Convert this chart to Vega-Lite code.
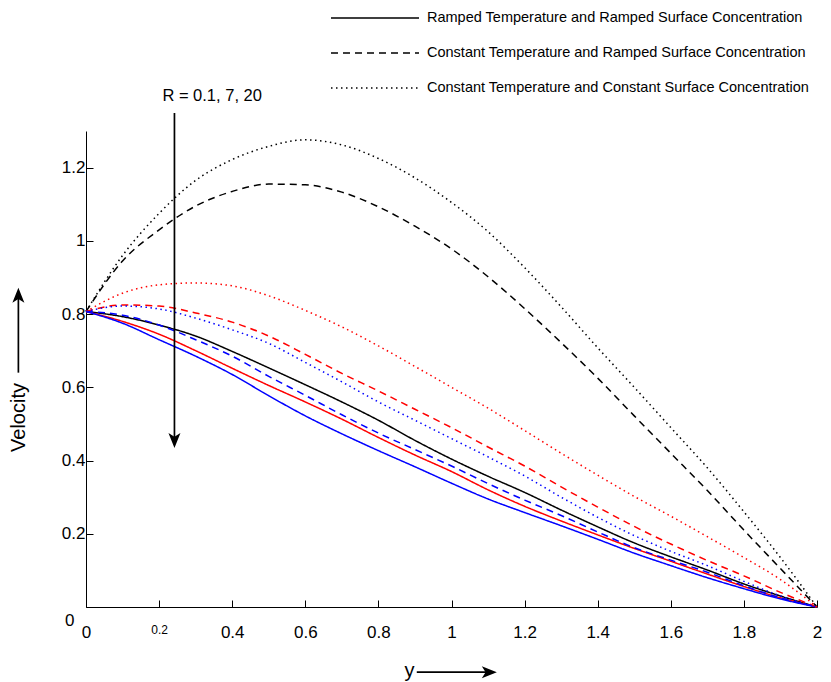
{
  "$schema": "https://vega.github.io/schema/vega-lite/v6.json",
  "autosize": {"type": "none"},
  "padding": {"left": 86, "top": 131, "right": 13, "bottom": 75},
  "width": 731,
  "height": 476,
  "background": "white",
  "config": {
    "view": {"stroke": null},
    "font": "Liberation Sans",
    "axis": {"grid": false, "domainColor": "black", "tickColor": "black", "labelColor": "black", "titleColor": "black", "titleFontWeight": "normal", "labelFont": "Liberation Sans", "titleFont": "Liberation Sans"}
  },
  "datasets": {
    "curves": [
      {"y":0,"v":0.807,"R":"0.1","c":"RR"},{"y":0.1,"v":0.793,"R":"0.1","c":"RR"},{"y":0.2,"v":0.77,"R":"0.1","c":"RR"},{"y":0.3,"v":0.74,"R":"0.1","c":"RR"},{"y":0.4,"v":0.698,"R":"0.1","c":"RR"},{"y":0.5,"v":0.653,"R":"0.1","c":"RR"},{"y":0.6,"v":0.607,"R":"0.1","c":"RR"},{"y":0.7,"v":0.56,"R":"0.1","c":"RR"},{"y":0.8,"v":0.51,"R":"0.1","c":"RR"},{"y":0.9,"v":0.455,"R":"0.1","c":"RR"},{"y":1.0,"v":0.404,"R":"0.1","c":"RR"},{"y":1.1,"v":0.357,"R":"0.1","c":"RR"},{"y":1.2,"v":0.313,"R":"0.1","c":"RR"},{"y":1.3,"v":0.265,"R":"0.1","c":"RR"},{"y":1.4,"v":0.219,"R":"0.1","c":"RR"},{"y":1.5,"v":0.175,"R":"0.1","c":"RR"},{"y":1.6,"v":0.137,"R":"0.1","c":"RR"},{"y":1.7,"v":0.101,"R":"0.1","c":"RR"},{"y":1.8,"v":0.063,"R":"0.1","c":"RR"},{"y":1.9,"v":0.03,"R":"0.1","c":"RR"},{"y":2.0,"v":0,"R":"0.1","c":"RR"},
      {"y":0,"v":0.807,"R":"7","c":"RR"},{"y":0.1,"v":0.78,"R":"7","c":"RR"},{"y":0.2,"v":0.745,"R":"7","c":"RR"},{"y":0.3,"v":0.7,"R":"7","c":"RR"},{"y":0.4,"v":0.652,"R":"7","c":"RR"},{"y":0.5,"v":0.605,"R":"7","c":"RR"},{"y":0.6,"v":0.56,"R":"7","c":"RR"},{"y":0.7,"v":0.513,"R":"7","c":"RR"},{"y":0.8,"v":0.463,"R":"7","c":"RR"},{"y":0.9,"v":0.415,"R":"7","c":"RR"},{"y":1.0,"v":0.37,"R":"7","c":"RR"},{"y":1.1,"v":0.32,"R":"7","c":"RR"},{"y":1.2,"v":0.275,"R":"7","c":"RR"},{"y":1.3,"v":0.235,"R":"7","c":"RR"},{"y":1.4,"v":0.197,"R":"7","c":"RR"},{"y":1.5,"v":0.16,"R":"7","c":"RR"},{"y":1.6,"v":0.125,"R":"7","c":"RR"},{"y":1.7,"v":0.09,"R":"7","c":"RR"},{"y":1.8,"v":0.056,"R":"7","c":"RR"},{"y":1.9,"v":0.025,"R":"7","c":"RR"},{"y":2.0,"v":0,"R":"7","c":"RR"},
      {"y":0,"v":0.807,"R":"20","c":"RR"},{"y":0.1,"v":0.775,"R":"20","c":"RR"},{"y":0.2,"v":0.73,"R":"20","c":"RR"},{"y":0.3,"v":0.685,"R":"20","c":"RR"},{"y":0.4,"v":0.635,"R":"20","c":"RR"},{"y":0.5,"v":0.577,"R":"20","c":"RR"},{"y":0.6,"v":0.522,"R":"20","c":"RR"},{"y":0.7,"v":0.473,"R":"20","c":"RR"},{"y":0.8,"v":0.427,"R":"20","c":"RR"},{"y":0.9,"v":0.383,"R":"20","c":"RR"},{"y":1.0,"v":0.338,"R":"20","c":"RR"},{"y":1.1,"v":0.295,"R":"20","c":"RR"},{"y":1.2,"v":0.258,"R":"20","c":"RR"},{"y":1.3,"v":0.222,"R":"20","c":"RR"},{"y":1.4,"v":0.185,"R":"20","c":"RR"},{"y":1.5,"v":0.147,"R":"20","c":"RR"},{"y":1.6,"v":0.113,"R":"20","c":"RR"},{"y":1.7,"v":0.08,"R":"20","c":"RR"},{"y":1.8,"v":0.05,"R":"20","c":"RR"},{"y":1.9,"v":0.022,"R":"20","c":"RR"},{"y":2.0,"v":0,"R":"20","c":"RR"},
      {"y":0,"v":0.807,"R":"0.1","c":"CR"},{"y":0.1,"v":0.945,"R":"0.1","c":"CR"},{"y":0.2,"v":1.03,"R":"0.1","c":"CR"},{"y":0.3,"v":1.095,"R":"0.1","c":"CR"},{"y":0.4,"v":1.135,"R":"0.1","c":"CR"},{"y":0.5,"v":1.155,"R":"0.1","c":"CR"},{"y":0.6,"v":1.153,"R":"0.1","c":"CR"},{"y":0.7,"v":1.133,"R":"0.1","c":"CR"},{"y":0.8,"v":1.093,"R":"0.1","c":"CR"},{"y":0.9,"v":1.04,"R":"0.1","c":"CR"},{"y":1.0,"v":0.978,"R":"0.1","c":"CR"},{"y":1.1,"v":0.902,"R":"0.1","c":"CR"},{"y":1.2,"v":0.815,"R":"0.1","c":"CR"},{"y":1.3,"v":0.722,"R":"0.1","c":"CR"},{"y":1.4,"v":0.625,"R":"0.1","c":"CR"},{"y":1.5,"v":0.522,"R":"0.1","c":"CR"},{"y":1.6,"v":0.42,"R":"0.1","c":"CR"},{"y":1.7,"v":0.318,"R":"0.1","c":"CR"},{"y":1.8,"v":0.21,"R":"0.1","c":"CR"},{"y":1.9,"v":0.105,"R":"0.1","c":"CR"},{"y":2.0,"v":0,"R":"0.1","c":"CR"},
      {"y":0,"v":0.807,"R":"7","c":"CR"},{"y":0.1,"v":0.825,"R":"7","c":"CR"},{"y":0.2,"v":0.822,"R":"7","c":"CR"},{"y":0.3,"v":0.803,"R":"7","c":"CR"},{"y":0.4,"v":0.778,"R":"7","c":"CR"},{"y":0.5,"v":0.74,"R":"7","c":"CR"},{"y":0.6,"v":0.69,"R":"7","c":"CR"},{"y":0.7,"v":0.638,"R":"7","c":"CR"},{"y":0.8,"v":0.59,"R":"7","c":"CR"},{"y":0.9,"v":0.54,"R":"7","c":"CR"},{"y":1.0,"v":0.49,"R":"7","c":"CR"},{"y":1.1,"v":0.437,"R":"7","c":"CR"},{"y":1.2,"v":0.385,"R":"7","c":"CR"},{"y":1.3,"v":0.328,"R":"7","c":"CR"},{"y":1.4,"v":0.273,"R":"7","c":"CR"},{"y":1.5,"v":0.22,"R":"7","c":"CR"},{"y":1.6,"v":0.172,"R":"7","c":"CR"},{"y":1.7,"v":0.127,"R":"7","c":"CR"},{"y":1.8,"v":0.085,"R":"7","c":"CR"},{"y":1.9,"v":0.04,"R":"7","c":"CR"},{"y":2.0,"v":0,"R":"7","c":"CR"},
      {"y":0,"v":0.807,"R":"20","c":"CR"},{"y":0.1,"v":0.797,"R":"20","c":"CR"},{"y":0.2,"v":0.77,"R":"20","c":"CR"},{"y":0.3,"v":0.73,"R":"20","c":"CR"},{"y":0.4,"v":0.685,"R":"20","c":"CR"},{"y":0.5,"v":0.63,"R":"20","c":"CR"},{"y":0.6,"v":0.578,"R":"20","c":"CR"},{"y":0.7,"v":0.525,"R":"20","c":"CR"},{"y":0.8,"v":0.475,"R":"20","c":"CR"},{"y":0.9,"v":0.43,"R":"20","c":"CR"},{"y":1.0,"v":0.385,"R":"20","c":"CR"},{"y":1.1,"v":0.337,"R":"20","c":"CR"},{"y":1.2,"v":0.292,"R":"20","c":"CR"},{"y":1.3,"v":0.25,"R":"20","c":"CR"},{"y":1.4,"v":0.205,"R":"20","c":"CR"},{"y":1.5,"v":0.162,"R":"20","c":"CR"},{"y":1.6,"v":0.128,"R":"20","c":"CR"},{"y":1.7,"v":0.095,"R":"20","c":"CR"},{"y":1.8,"v":0.058,"R":"20","c":"CR"},{"y":1.9,"v":0.025,"R":"20","c":"CR"},{"y":2.0,"v":0,"R":"20","c":"CR"},
      {"y":0,"v":0.807,"R":"0.1","c":"CC"},{"y":0.1,"v":0.96,"R":"0.1","c":"CC"},{"y":0.2,"v":1.075,"R":"0.1","c":"CC"},{"y":0.3,"v":1.165,"R":"0.1","c":"CC"},{"y":0.4,"v":1.222,"R":"0.1","c":"CC"},{"y":0.5,"v":1.258,"R":"0.1","c":"CC"},{"y":0.6,"v":1.276,"R":"0.1","c":"CC"},{"y":0.7,"v":1.262,"R":"0.1","c":"CC"},{"y":0.8,"v":1.225,"R":"0.1","c":"CC"},{"y":0.9,"v":1.172,"R":"0.1","c":"CC"},{"y":1.0,"v":1.105,"R":"0.1","c":"CC"},{"y":1.1,"v":1.025,"R":"0.1","c":"CC"},{"y":1.2,"v":0.927,"R":"0.1","c":"CC"},{"y":1.3,"v":0.82,"R":"0.1","c":"CC"},{"y":1.4,"v":0.708,"R":"0.1","c":"CC"},{"y":1.5,"v":0.6,"R":"0.1","c":"CC"},{"y":1.6,"v":0.49,"R":"0.1","c":"CC"},{"y":1.7,"v":0.38,"R":"0.1","c":"CC"},{"y":1.8,"v":0.26,"R":"0.1","c":"CC"},{"y":1.9,"v":0.135,"R":"0.1","c":"CC"},{"y":2.0,"v":0,"R":"0.1","c":"CC"},
      {"y":0,"v":0.807,"R":"7","c":"CC"},{"y":0.1,"v":0.857,"R":"7","c":"CC"},{"y":0.2,"v":0.88,"R":"7","c":"CC"},{"y":0.3,"v":0.885,"R":"7","c":"CC"},{"y":0.4,"v":0.877,"R":"7","c":"CC"},{"y":0.5,"v":0.85,"R":"7","c":"CC"},{"y":0.6,"v":0.81,"R":"7","c":"CC"},{"y":0.7,"v":0.765,"R":"7","c":"CC"},{"y":0.8,"v":0.713,"R":"7","c":"CC"},{"y":0.9,"v":0.657,"R":"7","c":"CC"},{"y":1.0,"v":0.6,"R":"7","c":"CC"},{"y":1.1,"v":0.543,"R":"7","c":"CC"},{"y":1.2,"v":0.482,"R":"7","c":"CC"},{"y":1.3,"v":0.42,"R":"7","c":"CC"},{"y":1.4,"v":0.36,"R":"7","c":"CC"},{"y":1.5,"v":0.302,"R":"7","c":"CC"},{"y":1.6,"v":0.248,"R":"7","c":"CC"},{"y":1.7,"v":0.192,"R":"7","c":"CC"},{"y":1.8,"v":0.135,"R":"7","c":"CC"},{"y":1.9,"v":0.075,"R":"7","c":"CC"},{"y":2.0,"v":0,"R":"7","c":"CC"},
      {"y":0,"v":0.807,"R":"20","c":"CC"},{"y":0.1,"v":0.822,"R":"20","c":"CC"},{"y":0.2,"v":0.814,"R":"20","c":"CC"},{"y":0.3,"v":0.789,"R":"20","c":"CC"},{"y":0.4,"v":0.757,"R":"20","c":"CC"},{"y":0.5,"v":0.72,"R":"20","c":"CC"},{"y":0.6,"v":0.668,"R":"20","c":"CC"},{"y":0.7,"v":0.615,"R":"20","c":"CC"},{"y":0.8,"v":0.56,"R":"20","c":"CC"},{"y":0.9,"v":0.51,"R":"20","c":"CC"},{"y":1.0,"v":0.46,"R":"20","c":"CC"},{"y":1.1,"v":0.41,"R":"20","c":"CC"},{"y":1.2,"v":0.358,"R":"20","c":"CC"},{"y":1.3,"v":0.3,"R":"20","c":"CC"},{"y":1.4,"v":0.245,"R":"20","c":"CC"},{"y":1.5,"v":0.195,"R":"20","c":"CC"},{"y":1.6,"v":0.152,"R":"20","c":"CC"},{"y":1.7,"v":0.113,"R":"20","c":"CC"},{"y":1.8,"v":0.07,"R":"20","c":"CC"},{"y":1.9,"v":0.03,"R":"20","c":"CC"},{"y":2.0,"v":0,"R":"20","c":"CC"}
    ]
  },
  "layer": [
    {
      "data": {"name": "curves"},
      "mark": {"type": "line", "strokeWidth": 1.5, "clip": false, "interpolate": "monotone"},
      "encoding": {
        "x": {
          "field": "y", "type": "quantitative",
          "scale": {"domain": [0, 2], "nice": false, "zero": false},
          "axis": {
            "values": [0, 0.2, 0.4, 0.6, 0.8, 1, 1.2, 1.4, 1.6, 1.8, 2],
            "format": "~g",
            "tickSize": -7,
            "labelPadding": 24,
            "labelFontSize": {"condition": {"test": "datum.value == 0.2", "value": 12}, "value": 17},
            "labelFlush": false,
            "title": "y",
            "titleFontSize": 20,
            "titleX": 323,
            "titleY": 63,
            "titleAlign": "center",
            "titleBaseline": "middle"
          }
        },
        "y": {
          "field": "v", "type": "quantitative",
          "scale": {"domain": [0, 1.3], "nice": false, "zero": false},
          "axis": {
            "values": [0, 0.2, 0.4, 0.6, 0.8, 1, 1.2],
            "format": "~g",
            "tickSize": -7,
            "labelPadding": {"condition": {"test": "datum.value == 0", "value": 19}, "value": 8},
            "labelOffset": {"condition": {"test": "datum.value == 0", "value": 13}, "value": 0},
            "labelFontSize": 17,
            "labelFlush": false,
            "title": "Velocity",
            "titleFontSize": 20,
            "titleX": -68,
            "titleY": 286,
            "titleAlign": "center",
            "titleBaseline": "middle"
          }
        },
        "color": {
          "field": "R", "type": "nominal",
          "scale": {"domain": ["0.1", "7", "20"], "range": ["#000000", "#ff0000", "#0000ff"]},
          "legend": null
        },
        "strokeDash": {
          "field": "c", "type": "nominal",
          "scale": {"domain": ["RR", "CR", "CC"], "range": [[1, 0], [7, 5], [1.5, 3.5]]},
          "legend": {
            "orient": "none",
            "legendX": 244,
            "legendY": -121,
            "padding": 0,
            "title": null,
            "symbolType": "stroke",
            "symbolSize": 7744,
            "symbolStrokeWidth": 1.5,
            "symbolStrokeColor": "black",
            "clipHeight": 16,
            "rowPadding": 19,
            "labelFont": "Liberation Sans",
            "labelFontSize": 14.5,
            "labelColor": "black",
            "labelLimit": 600,
            "labelOffset": 7,
            "labelExpr": "datum.label == 'RR' ? 'Ramped Temperature and Ramped Surface Concentration' : datum.label == 'CR' ? 'Constant Temperature and Ramped Surface Concentration' : 'Constant Temperature and Constant Surface Concentration'"
          }
        }
      }
    },
    {
      "data": {"values": [
        {"x": 0.242, "x2": 0.242, "y": 1.349, "y2": 0.45},
        {"x": -0.185, "x2": -0.185, "y": 0.64, "y2": 0.86},
        {"x": 0.905, "x2": 1.11, "y": -0.178, "y2": -0.178}
      ]},
      "mark": {"type": "rule", "color": "black", "strokeWidth": 1.7},
      "encoding": {
        "x": {"field": "x", "type": "quantitative"},
        "x2": {"field": "x2"},
        "y": {"field": "y", "type": "quantitative"},
        "y2": {"field": "y2"}
      }
    },
    {
      "data": {"values": [
        {"x": 0.242, "y": 0.434, "dir": "down"},
        {"x": -0.185, "y": 0.872, "dir": "up"},
        {"x": 1.124, "y": -0.178, "dir": "right"}
      ]},
      "mark": {"type": "point", "filled": true, "color": "black", "opacity": 1, "size": 225},
      "encoding": {
        "x": {"field": "x", "type": "quantitative"},
        "y": {"field": "y", "type": "quantitative"},
        "shape": {
          "field": "dir", "type": "nominal",
          "scale": {"domain": ["down", "up", "right"], "range": ["M0,0 L0.8,-2 L0,-1.5 L-0.8,-2 Z", "M0,0 L0.8,2 L0,1.5 L-0.8,2 Z", "M0,0 L-2,-0.8 L-1.5,0 L-2,0.8 Z"]},
          "legend": null
        }
      }
    },
    {
      "data": {"values": [{"x": 0.209, "y": 1.396, "label": "R = 0.1, 7, 20"}]},
      "mark": {"type": "text", "align": "left", "baseline": "middle", "font": "Liberation Sans", "fontSize": 16.5, "color": "black"},
      "encoding": {
        "x": {"field": "x", "type": "quantitative"},
        "y": {"field": "y", "type": "quantitative"},
        "text": {"field": "label"}
      }
    }
  ]
}
